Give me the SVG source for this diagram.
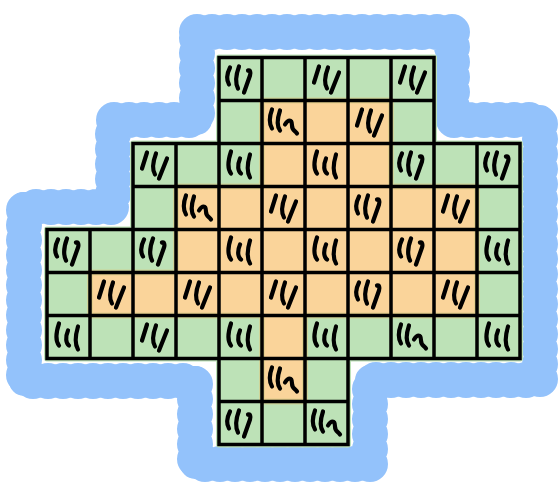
<svg xmlns="http://www.w3.org/2000/svg" width="558" height="487" viewBox="0 0 558 487">
<style>
.blue{fill:none;stroke:#93c2fb;stroke-linejoin:round;stroke-linecap:round}
.grid{fill:none;stroke:#000;stroke-width:3.5;stroke-linecap:square}
.sc{fill:none;stroke:#000;stroke-width:4.2;stroke-linecap:round;stroke-linejoin:round}
</style>
<defs>
<g id="sa" class="sc"><path d="M11,10 C8,16 7,22 10,27"/><path d="M20,9 C17,17 16,25 19,31"/><path d="M29,13 C31,12 32,15 31,18 L25,35"/></g>
<g id="sb" class="sc"><path d="M10,9 C7,17 7,23 10,28"/><path d="M18,10 C15,19 15,26 18,30"/><path d="M23,24 C26,19 30,18 30,25 C30,30 33,30 35,33"/></g>
<g id="sc" class="sc"><path d="M14,9 L9,25"/><path d="M23,10 C20,18 19,26 22,31"/><path d="M34,15 L26,35"/></g>
<g id="sd" class="sc"><path d="M12,8 C9,17 8,25 12,30"/><path d="M21,15 C18,22 19,28 22,30"/><path d="M31,11 C28,21 28,29 31,34"/></g>
</defs>
<g id="outline">
<path class="blue" stroke-width="30" d="M197,32 L452,32 L452,120 L540,120 L540,380 L370,380 L370,464 L195,464 L195,381 L24,381 L24,207 L113,207 L113,120 L197,120 Z"/>
<path class="blue" stroke-width="36" stroke-dasharray="0 15" d="M197,32 L452,32 L452,120 L540,120 L540,380 L370,380 L370,464 L195,464 L195,381 L24,381 L24,207 L113,207 L113,120 L197,120 Z"/>
</g>
<g id="fills">
<path fill="#bde2b7" stroke="#bde2b7" stroke-width="6" stroke-linejoin="round" d="M219,57.5 L434,57.5 L434,143.5 L520,143.5 L520,358.5 L348,358.5 L348,444.5 L219,444.5 L219,358.5 L47,358.5 L47,229.5 L133,229.5 L133,143.5 L219,143.5 Z"/>
<path fill="#fad49a" stroke="#d9cc85" stroke-width="6" stroke-opacity="0.6" stroke-linejoin="round" d="M262,100.5 L391,100.5 L391,186.5 L477,186.5 L477,315.5 L305,315.5 L305,401.5 L262,401.5 L262,315.5 L90,315.5 L90,272.5 L176,272.5 L176,186.5 L262,186.5 Z"/>
</g>
<g id="grid">
<path class="grid" d="M219,57.5H434M219,100.5H434M133,143.5H520M133,186.5H520M47,229.5H520M47,272.5H520M47,315.5H520M47,358.5H520M219,401.5H348M219,444.5H348M47,229.5V358.5M90,229.5V358.5M133,143.5V358.5M176,143.5V358.5M219,57.5V444.5M262,57.5V444.5M305,57.5V444.5M348,57.5V444.5M391,57.5V358.5M434,57.5V358.5M477,143.5V358.5M520,143.5V358.5"/>
</g>
<g id="marks">
<use href="#sa" x="219" y="57.5"/>
<use href="#sc" x="305" y="57.5"/>
<use href="#sc" x="391" y="57.5"/>
<use href="#sb" x="262" y="100.5"/>
<use href="#sc" x="348" y="100.5"/>
<use href="#sc" x="133" y="143.5"/>
<use href="#sd" x="219" y="143.5"/>
<use href="#sd" x="305" y="143.5"/>
<use href="#sa" x="391" y="143.5"/>
<use href="#sa" x="477" y="143.5"/>
<use href="#sb" x="176" y="186.5"/>
<use href="#sc" x="262" y="186.5"/>
<use href="#sa" x="348" y="186.5"/>
<use href="#sc" x="434" y="186.5"/>
<use href="#sa" x="47" y="229.5"/>
<use href="#sa" x="133" y="229.5"/>
<use href="#sd" x="219" y="229.5"/>
<use href="#sd" x="305" y="229.5"/>
<use href="#sa" x="391" y="229.5"/>
<use href="#sd" x="477" y="229.5"/>
<use href="#sc" x="90" y="272.5"/>
<use href="#sc" x="176" y="272.5"/>
<use href="#sc" x="262" y="272.5"/>
<use href="#sa" x="348" y="272.5"/>
<use href="#sc" x="434" y="272.5"/>
<use href="#sd" x="47" y="315.5"/>
<use href="#sc" x="133" y="315.5"/>
<use href="#sd" x="219" y="315.5"/>
<use href="#sd" x="305" y="315.5"/>
<use href="#sb" x="391" y="315.5"/>
<use href="#sd" x="477" y="315.5"/>
<use href="#sb" x="262" y="358.5"/>
<use href="#sa" x="219" y="401.5"/>
<use href="#sb" x="305" y="401.5"/>
</g>
</svg>
